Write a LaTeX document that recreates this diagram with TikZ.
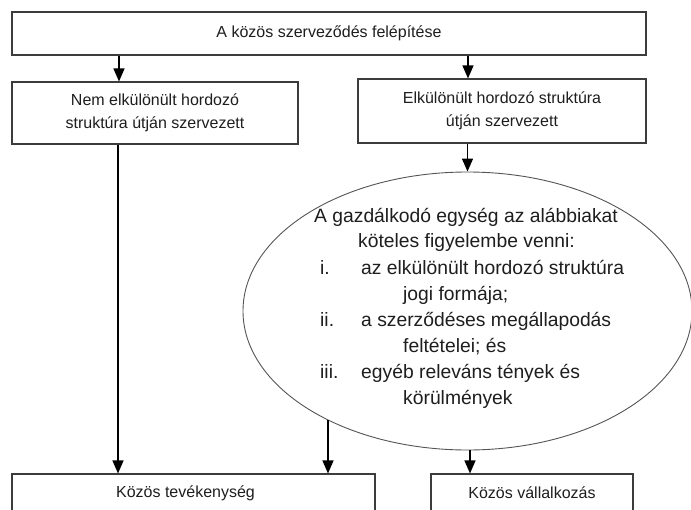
\documentclass[tikz,border=0pt]{standalone}
\usepackage{fontspec}
\setmainfont{Liberation Sans}
\usetikzlibrary{shapes.geometric,arrows.meta}
\definecolor{boxgray}{HTML}{3C3C3C}
\definecolor{ellgray}{HTML}{555555}
\definecolor{textc}{HTML}{1E1E1E}
\begin{document}
\begin{tikzpicture}[x=1pt,y=-1pt,
  box/.style={draw=boxgray, line width=1.1pt, inner sep=0pt, font=\fontsize{16}{23}\selectfont, align=center, text=textc},
  arr/.style={line width=1.4pt, -{Triangle[length=13pt,width=11pt]}},
  etext/.style={font=\fontsize{19.3}{22}\selectfont, anchor=base west, inner sep=0pt, text=textc}]
\useasboundingbox (0,0) rectangle (691,509);
\fill[white] (0,0) rectangle (691,509);
\clip (0,0) rectangle (691,509);

\node[box, minimum width=634pt, minimum height=43pt] (top) at (329,33.5) {A közös szerveződés felépítése};
\node[box, minimum width=286pt, minimum height=62pt] (lbox) at (155,113) {Nem elkülönült hordozó\\struktúra útján szervezett};
\node[box, minimum width=288pt, minimum height=64pt] (rbox) at (502,111) {Elkülönült hordozó struktúra\\útján szervezett};
\node[draw=ellgray, line width=0.9pt, ellipse, minimum width=449pt, minimum height=278pt, inner sep=0pt] (ell) at (467.5,311) {};

\node[etext, anchor=base] (t1) at (466,222) {A gazdálkodó egység az alábbiakat};
\node[etext] (t2) at (358,247) {köteles figyelembe venni:};
\node[etext] (n1) at (320,274) {i.};
\node[etext] (t3) at (361,274) {az elkülönült hordozó struktúra};
\node[etext] (t4) at (403,300) {jogi formája;};
\node[etext] (n2) at (320,326) {ii.};
\node[etext] (t5) at (361,326) {a szerződéses megállapodás};
\node[etext] (t6) at (403,352) {feltételei; és};
\node[etext] (n3) at (320,378) {iii.};
\node[etext] (t7) at (361,378) {egyéb releváns tények és};
\node[etext] (t8) at (403,404) {körülmények};

\node[box, minimum width=363pt, minimum height=38pt] (bl) at (193.5,493) {\hspace*{-16pt}Közös tevékenység};
\node[box, minimum width=202pt, minimum height=38pt] (br) at (532,493) {Közös vállalkozás};

\coordinate (e1) at (328,420);
\draw[arr] (top.south -| 119,0) -- (lbox.north -| 119,0);
\draw[arr] (top.south -| 468,0) -- (rbox.north -| 468,0);
\draw[arr] (lbox.south -| 118,0) -- (bl.north -| 118,0);
\draw[arr] (rbox.south -| ell.north) -- (ell.north);
\draw[arr] (e1) -- (bl.north -| e1);
\draw[arr] (ell.south -| 470,0) -- (br.north -| 470,0);
\end{tikzpicture}
\end{document}
